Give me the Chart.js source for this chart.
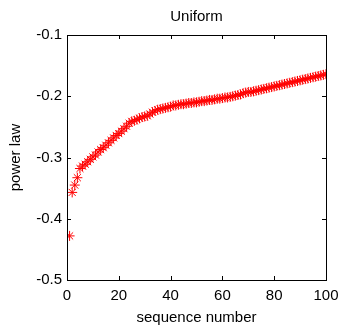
<!DOCTYPE html>
<html>
<head>
<meta charset="utf-8">
<script src="https://cdn.jsdelivr.net/npm/chart.js@4.4.1/dist/chart.umd.min.js"></script>
<style>
  html, body { margin: 0; padding: 0; background: #ffffff; }
  #wrap { width: 342px; height: 328px; }
</style>
</head>
<body>
<div id="wrap"><canvas id="chart" width="342" height="328"></canvas></div>
<script>
// --- DATA ---
const seqNumbers = Array.from({ length: 100 }, (_, i) => i + 1);
const powerLaw = [
    -0.428, -0.357, -0.345, -0.333, -0.318, -0.314, -0.311, -0.307, -0.303, -0.299,
    -0.296, -0.291, -0.287, -0.284, -0.280, -0.276, -0.272, -0.268, -0.264, -0.261,
    -0.257, -0.253, -0.249, -0.244, -0.241, -0.240, -0.238, -0.236, -0.234, -0.233,
    -0.232, -0.229, -0.226, -0.224, -0.222, -0.221, -0.220, -0.219, -0.218, -0.217,
    -0.215, -0.215, -0.214, -0.213, -0.213, -0.212, -0.211, -0.211, -0.210, -0.210,
    -0.209, -0.208, -0.208, -0.207, -0.206, -0.206, -0.205, -0.204, -0.204, -0.203,
    -0.202, -0.202, -0.201, -0.200, -0.199, -0.198, -0.197, -0.195, -0.194, -0.193,
    -0.193, -0.192, -0.191, -0.190, -0.189, -0.188, -0.187, -0.186, -0.185, -0.184,
    -0.183, -0.182, -0.181, -0.180, -0.179, -0.178, -0.177, -0.176, -0.175, -0.174,
    -0.173, -0.172, -0.171, -0.170, -0.169, -0.168, -0.167, -0.166, -0.165, -0.164
];
const xTicks = [0, 20, 40, 60, 80, 100];
const yTicks = [-0.5, -0.4, -0.3, -0.2, -0.1];
const chartTitle = 'Uniform';

const FONT = { family: 'Arial, "Liberation Sans", sans-serif', size: 15 };

// box around the plot, inward tick marks on all four sides, title centred over the plot
const boxPlugin = {
    id: 'box',
    afterDatasetsDraw(chart) {
        const { ctx, chartArea: a, scales: { x, y } } = chart;
        ctx.save();
        ctx.strokeStyle = '#000';
        ctx.lineWidth = 1;
        ctx.strokeRect(Math.round(a.left) + 0.5, Math.round(a.top) + 0.5,
            Math.round(a.right - a.left), Math.round(a.bottom - a.top));
        ctx.beginPath();
        xTicks.forEach(v => {
            const px = Math.round(x.getPixelForValue(v)) + 0.5;
            ctx.moveTo(px, a.bottom); ctx.lineTo(px, a.bottom - 4);
            ctx.moveTo(px, a.top); ctx.lineTo(px, a.top + 4);
        });
        yTicks.forEach(v => {
            const py = Math.round(y.getPixelForValue(v)) + 0.5;
            ctx.moveTo(a.left, py); ctx.lineTo(a.left + 4, py);
            ctx.moveTo(a.right, py); ctx.lineTo(a.right - 4, py);
        });
        ctx.stroke();

        ctx.fillStyle = '#000';
        ctx.font = `${FONT.size}px ${FONT.family}`;
        ctx.textAlign = 'center';
        ctx.textBaseline = 'middle';
        ctx.fillText(chartTitle, (a.left + a.right) / 2, 17);
        ctx.restore();
    }
};

new Chart(document.getElementById('chart'), {
    type: 'scatter',
    data: {
        datasets: [{
            data: seqNumbers.map((n, i) => ({ x: n, y: powerLaw[i] })),
            pointStyle: 'star',
            pointRadius: 5,
            borderColor: '#ff0000',
            backgroundColor: '#ff0000',
            borderWidth: 1
        }]
    },
    options: {
        responsive: false,
        animation: false,
        layout: { padding: { left: 0, right: 16, top: 35, bottom: 0 } },
        plugins: {
            legend: { display: false },
            tooltip: { enabled: false },
            title: { display: false }
        },
        scales: {
            x: {
                type: 'linear',
                min: 0, max: 100,
                afterFit: s => { s.height = 48; s.paddingLeft = 0; s.paddingRight = 0; },
                afterBuildTicks: s => { s.ticks = xTicks.map(v => ({ value: v })); },
                grid: { display: false, drawTicks: false },
                border: { display: false },
                ticks: { color: '#000', font: FONT, padding: 7, maxRotation: 0 },
                title: { display: true, text: 'sequence number', color: '#000', font: FONT, padding: { top: 0, bottom: 1 } }
            },
            y: {
                type: 'linear',
                min: -0.5, max: -0.1,
                afterFit: s => { s.width = 67; s.paddingTop = 0; s.paddingBottom = 0; },
                afterBuildTicks: s => { s.ticks = yTicks.map(v => ({ value: v })); },
                grid: { display: false, drawTicks: false },
                border: { display: false },
                ticks: { color: '#000', font: FONT, padding: 5, callback: v => v.toFixed(1) },
                title: { display: true, text: 'power law', color: '#000', font: FONT, padding: { top: 7, bottom: 0 } }
            }
        }
    },
    plugins: [boxPlugin]
});
</script>
</body>
</html>
